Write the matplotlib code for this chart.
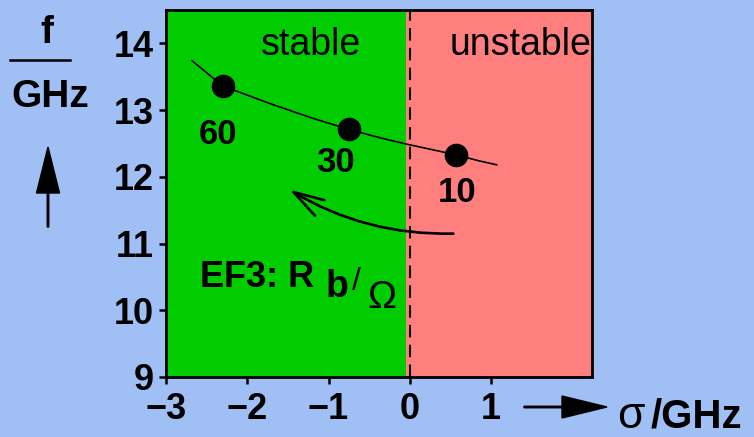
import numpy as np
import matplotlib
matplotlib.use("Agg")
import matplotlib.pyplot as plt

plt.rcParams['font.family'] = ['Liberation Sans', 'DejaVu Sans']

# traced frequency curve f(sigma)
curve_sigma = [-2.68, -2.30, -1.68, -1.20, -0.75, -0.35, -0.04, 0.57, 0.85, 1.07]
curve_freq = [13.74, 13.36, 13.08, 12.88, 12.71, 12.58, 12.49, 12.33, 12.24, 12.18]

# operating points labelled by R_b in Ohm
point_sigma = [-2.30, -0.75, 0.57]
point_freq = [13.36, 12.71, 12.33]
point_labels = ["60", "30", "10"]
label_sigma = [-2.36, -0.91, 0.58]
label_freq = [12.63, 12.21, 11.76]

x_ticks = [-3, -2, -1, 0, 1]
x_ticklabels = ["\u22123", "\u22122", "\u22121", "0", "1"]
y_ticks = [9, 10, 11, 12, 13, 14]

BG = '#9fbff5'
GREEN = '#00cc00'
RED = '#ff7f7f'

fig = plt.figure(figsize=(7.54, 4.37), dpi=100, facecolor=BG)
ax = fig.add_axes([0.2202, 0.1373, 0.5646, 0.8398])
ax.set_xlim(-3, 2.24)
ax.set_ylim(9, 14.5)

# stable / unstable regions
ax.axvspan(-3, -0.05, color=GREEN, lw=0, zorder=0)
ax.axvspan(-0.05, 2.24, color=RED, lw=0, zorder=0)
ax.axvline(0, color='black', lw=1.5, ls=(0, (6, 3.5)), zorder=1)

ax.plot(curve_sigma, curve_freq, color='black', lw=1.2, zorder=2)
ax.plot(point_sigma, point_freq, 'o', color='black', ms=16, zorder=3)
for sx, fy, lab in zip(label_sigma, label_freq, point_labels):
    ax.text(sx, fy, lab, ha='center', va='center', fontsize=25, fontweight='bold')

ax.text(-1.21, 13.98, "stable", ha='center', va='center', fontsize=27)
ax.text(1.37, 13.98, "unstable", ha='center', va='center', fontsize=27)

# direction of decreasing R_b
ax.annotate("", xy=(-1.51, 11.83), xytext=(0.57, 11.15),
            arrowprops=dict(arrowstyle='->,head_length=2.2,head_width=0.65',
                            connectionstyle='arc3,rad=-0.15', lw=1.9, color='black'))

ax.text(-2.58, 10.35, "EF3: R", ha='left', va='baseline', fontsize=26, fontweight='bold')
ax.text(-1.04, 10.20, "b", ha='left', va='baseline', fontsize=27, fontweight='bold')
ax.text(-0.71, 10.30, "/", ha='left', va='baseline', fontsize=23)
ax.text(-0.52, 10.03, "\u03a9", ha='left', va='baseline', fontsize=28)

ax.set_xticks(x_ticks)
ax.set_xticklabels(x_ticklabels)
ax.set_yticks(y_ticks)
ax.tick_params(direction='out', length=5, width=1.8, labelsize=26)
ax.tick_params(axis='x', pad=6)
ax.tick_params(axis='y', pad=4)
for lab in ax.get_xticklabels() + ax.get_yticklabels():
    lab.set_fontweight('bold')
for sp in ax.spines.values():
    sp.set_linewidth(2)

# y axis label: f / GHz with arrow
fig.text(47 / 754, 1 - 33 / 437, "f", ha='center', va='center', fontsize=28, fontweight='bold')
fig.add_artist(plt.Line2D([10 / 754, 70 / 754], [1 - 60 / 437, 1 - 60 / 437],
                          color='black', lw=1.8))
fig.text(50 / 754, 1 - 97 / 437, "GHz", ha='center', va='center', fontsize=28, fontweight='bold')
fig.add_artist(matplotlib.patches.FancyArrow(48 / 754, 1 - 227 / 437, 0, 80 / 437,
                                             width=1.5 / 754, head_width=23 / 754,
                                             head_length=46 / 437, length_includes_head=True,
                                             color='black', transform=fig.transFigure))

# x axis label: arrow then sigma / GHz
fig.add_artist(matplotlib.patches.FancyArrow(524 / 754, 1 - 407 / 437, 83 / 754, 0,
                                             width=1.5 / 437, head_width=22 / 437,
                                             head_length=45 / 754, length_includes_head=True,
                                             color='black', transform=fig.transFigure))
fig.text(617 / 754, 1 - 417 / 437, "\u03c3", ha='left', va='center', fontsize=32)
fig.text(651 / 754, 1 - 417 / 437, "/GHz", ha='left', va='center', fontsize=29, fontweight='bold')

fig.savefig("out.png", dpi=100, facecolor=BG)
